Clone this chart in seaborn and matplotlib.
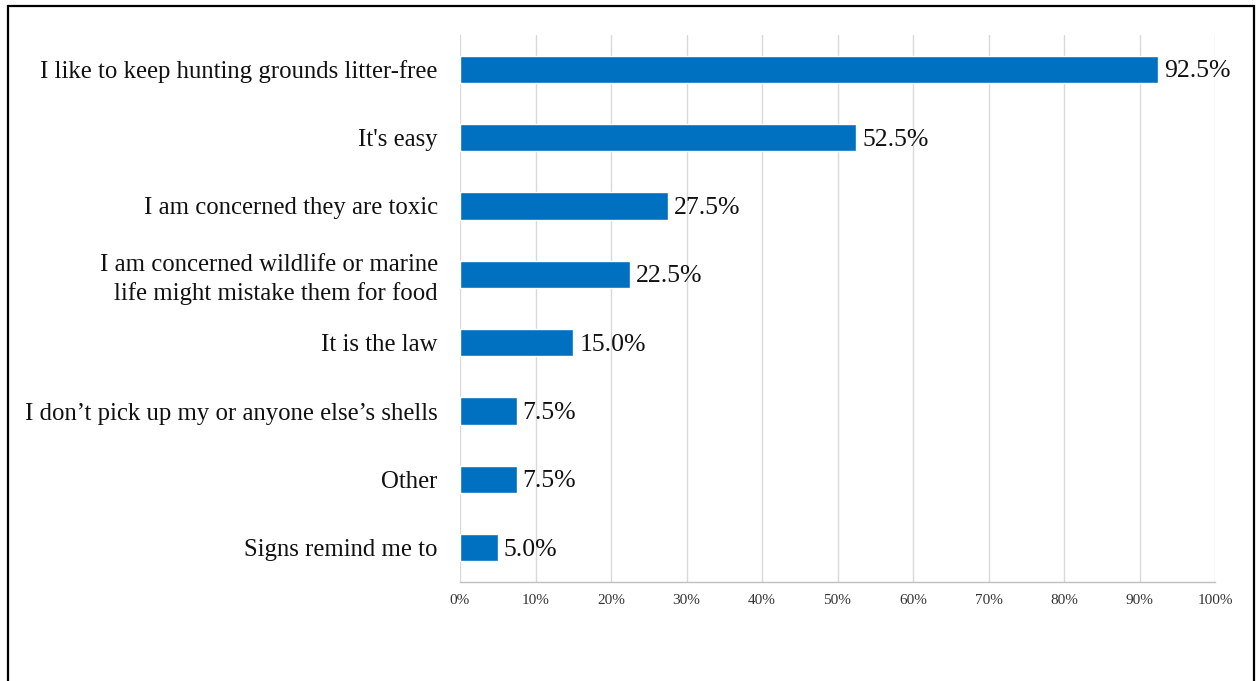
import matplotlib
matplotlib.use("Agg")
import matplotlib.pyplot as plt
import seaborn as sns
import pandas as pd
from matplotlib.patches import Rectangle
from matplotlib.ticker import FuncFormatter
from matplotlib.transforms import offset_copy

categories = [
    "I like to keep hunting grounds litter-free",
    "It's easy",
    "I am concerned they are toxic",
    "I am concerned wildlife or marine\nlife might mistake them for food",
    "It is the law",
    "I don\u2019t pick up my or anyone else\u2019s shells",
    "Other",
    "Signs remind me to",
]
values = [92.5, 52.5, 27.5, 22.5, 15.0, 7.5, 7.5, 5.0]
x_ticks = [0, 10, 20, 30, 40, 50, 60, 70, 80, 90, 100]

df = pd.DataFrame({"reason": categories, "pct": values})

sns.set_theme(style="white")
plt.rcParams["font.family"] = ["Liberation Serif", "DejaVu Serif"]

fig = plt.figure(figsize=(12.58, 6.81), dpi=100)
ax = fig.add_axes([460 / 1258, 1 - 582 / 681, (1215 - 460) / 1258, (582 - 35) / 681])

sns.barplot(data=df, x="pct", y="reason", color="#0070C0", saturation=1,
            width=0.4, ax=ax, orient="h", zorder=3)

ax.set_xlim(0, 100)
ax.set_ylim(len(categories) - 0.5, -0.5)
ax.set_xticks(x_ticks)
ax.xaxis.set_major_formatter(FuncFormatter(lambda v, p: f"{int(v)}%"))
ax.tick_params(axis="x", labelsize=11, colors="#333333", length=0, pad=9)
ax.tick_params(axis="y", labelsize=17.8, colors="#111111", length=0, pad=16)
for lab in ax.get_yticklabels():
    lab.set_horizontalalignment("right")
    lab.set_multialignment("right")
    lab.set_linespacing(1.3)
ax.set_xlabel("")
ax.set_ylabel("")
ax.grid(axis="x", color="#d9d9d9", linewidth=1, zorder=0)
ax.set_axisbelow(True)
for s in ["top", "right", "left"]:
    ax.spines[s].set_visible(False)
ax.spines["bottom"].set_color("#bfbfbf")
ax.spines["bottom"].set_linewidth(1)

shifted = offset_copy(ax.transData, fig=fig, x=0, y=-2, units="dots")
for i, v in enumerate(values):
    ax.text(v + 0.8, i, f"{v:.1f}%", va="center", ha="left", fontsize=18.5,
            color="#111111", zorder=4, transform=shifted)

fig.patches.append(Rectangle((8 / 1258, -0.05), (1254 - 8) / 1258, 1.05 - 6 / 681,
                             transform=fig.transFigure, fill=False,
                             edgecolor="black", linewidth=1.6))

fig.savefig("out.png", dpi=100)
